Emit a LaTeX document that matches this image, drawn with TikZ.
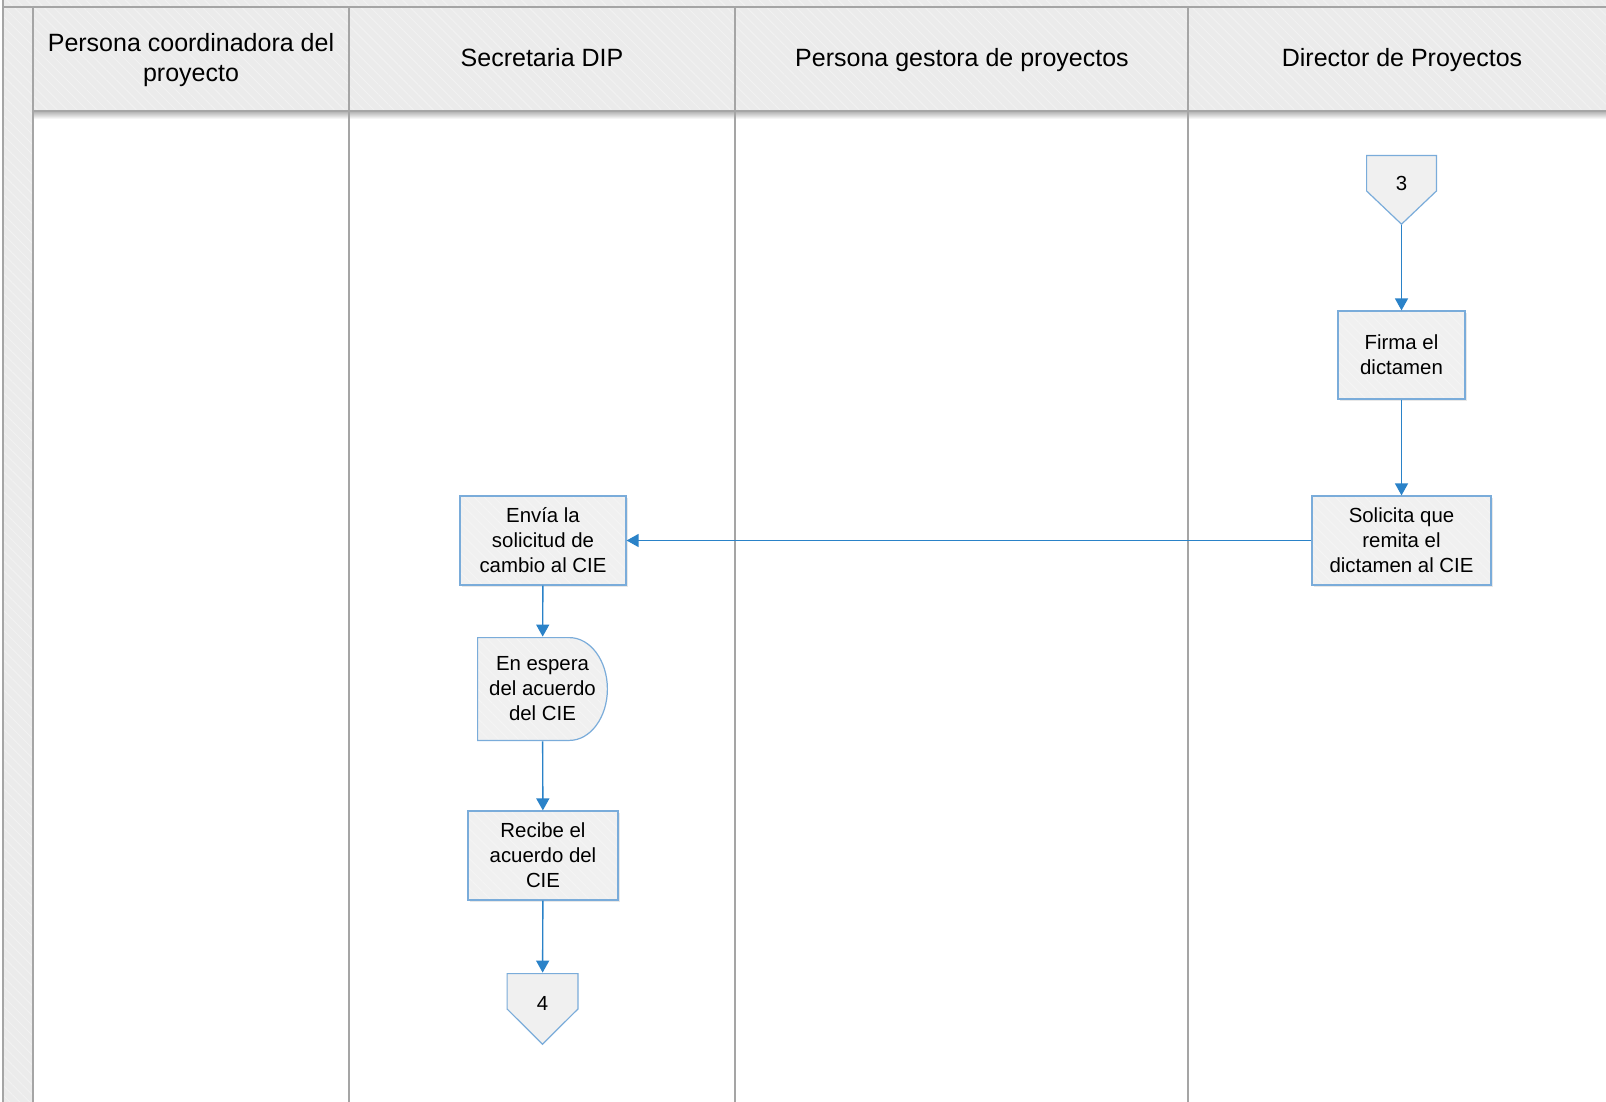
\documentclass[tikz,border=0pt]{standalone}
\usepackage{fontspec}
\setmainfont{Liberation Sans}
\usepackage{tikz}
\usetikzlibrary{calc}
\usetikzlibrary{arrows.meta}
\usetikzlibrary{patterns.meta}
\usetikzlibrary{shadows}
\definecolor{lanegrey}{RGB}{165,165,165}
\definecolor{headfill}{RGB}{235,235,235}
\definecolor{boxfill}{RGB}{240,240,240}
\definecolor{boxline}{RGB}{122,172,218}
\definecolor{flowblue}{RGB}{42,130,200}
\tikzset{>={Triangle[length=6pt, width=6.5pt]}}
\tikzstyle{hatch} = [preaction = {fill = headfill}, pattern = {Lines[angle=-45, distance=3.5pt, line width=0.4pt]}, pattern color = white!35!headfill]
\tikzstyle{boxhatch} = [preaction = {fill = boxfill}, pattern = {Lines[angle=-45, distance=3.5pt, line width=0.4pt]}, pattern color = white!35!boxfill]
\tikzstyle{laneline} = [draw = lanegrey, line width = 0.8pt]
\tikzstyle{lanehead} = [align = center, font = \fontsize{12.5}{15}\selectfont]
\tikzstyle{task} = [rectangle, draw = boxline, line width = 0.6pt, drop shadow = {shadow xshift = 1.2pt, shadow yshift = -1.2pt, opacity = 0.18}, boxhatch, align = center, inner sep = 2pt, font = \fontsize{10.2}{12.5}\selectfont]
\tikzstyle{wait} = [align = center, inner sep = 0pt, font = \fontsize{10.2}{12.5}\selectfont, path picture = {
  \filldraw [boxhatch, draw = boxline, line width = 0.6pt]
    ([shift = {(0.3pt, -0.3pt)}] path picture bounding box.north west) --
    ([shift = {(-19.3pt, -0.3pt)}] path picture bounding box.north east)
    arc [start angle = 90, end angle = -90, x radius = 19pt, y radius = 25.7pt] --
    ([shift = {(0.3pt, 0.3pt)}] path picture bounding box.south west) -- cycle;
}]
\tikzstyle{offpage} = [minimum width = 35.5pt, minimum height = 35pt, inner sep = 0pt, text height = 7pt, text depth = 6pt, font = \fontsize{10.2}{12}\selectfont, path picture = {
  \filldraw [draw = boxline, line width = 0.6pt, fill = boxfill]
    ([shift = {(0.3pt, -0.3pt)}] path picture bounding box.north west) --
    ([shift = {(-0.3pt, -0.3pt)}] path picture bounding box.north east) --
    ([xshift = -0.3pt, yshift = -18pt] path picture bounding box.north east) --
    ([yshift = 0.4pt] path picture bounding box.south) --
    ([xshift = 0.3pt, yshift = -18pt] path picture bounding box.north west) -- cycle;
}]
\tikzstyle{flow} = [->, draw = flowblue, line width = 0.7pt]

\begin{document}
\begin{tikzpicture}[x = 0.5pt, y = -0.5pt]
\useasboundingbox (0, 0) rectangle (1606, 1102);
\fill [white] (0, 0) rectangle (1606, 1102);
% pool frame and lane headers
\filldraw [hatch, laneline] (3, -10) rectangle (1620, 7);
\filldraw [hatch, laneline] (3, 7) rectangle (33, 1110);
\foreach \a/\b in {33/349, 349/735, 735/1188, 1188/1620}
  \filldraw [hatch, laneline] (\a, 7) rectangle (\b, 111);
\shade [top color = black!28, bottom color = white] (33, 112) rectangle (1620, 119);
\foreach \x in {33, 349, 735, 1188}
  \draw [laneline] (\x, 7) -- (\x, 1110);
\draw [laneline] (33, 111) -- (1620, 111);
\node [lanehead] (Hcoord) at (191, 60) {Persona coordinadora del\\proyecto};
\node [lanehead] (Hsec) at (542, 58) {Secretaria DIP};
\node [lanehead] (Hgest) at (962, 60) {Persona gestora de proyectos};
\node [lanehead] (Hdir) at (1402, 60) {Director de Proyectos};
% steps
\node [offpage] (C3) at (1401.5, 190) {3};
\node [task, minimum width = 63.5pt, minimum height = 44pt] (Firma) at (1401.5, 355) {Firma el\\dictamen};
\node [task, minimum width = 89.5pt, minimum height = 44.5pt] (Solicita) at (1401.5, 540.5) {Solicita que\\remita el\\dictamen al CIE};
\node [task, minimum width = 83pt, minimum height = 44.5pt] (Envia) at (543, 540.5) {Envía la\\solicitud de\\cambio al CIE};
\node [wait, minimum width = 65.5pt, minimum height = 52pt] (Espera) at (542.5, 689) {En espera\\del acuerdo\\del CIE};
\node [task, minimum width = 75pt, minimum height = 44.5pt] (Recibe) at (543, 855.5) {Recibe el\\acuerdo del\\CIE};
\node [offpage, minimum width = 36pt, minimum height = 36pt] (C4) at (542.5, 1009) {4};
\draw [flow] (C3) to (Firma);
\draw [flow] (Firma) to (Solicita);
\draw [flow] (Solicita) to (Envia);
\draw [flow] (Envia) to (Espera);
\draw [flow] (Espera) to (Recibe);
\draw [flow] (Recibe) to (C4);
\end{tikzpicture}
\end{document}
